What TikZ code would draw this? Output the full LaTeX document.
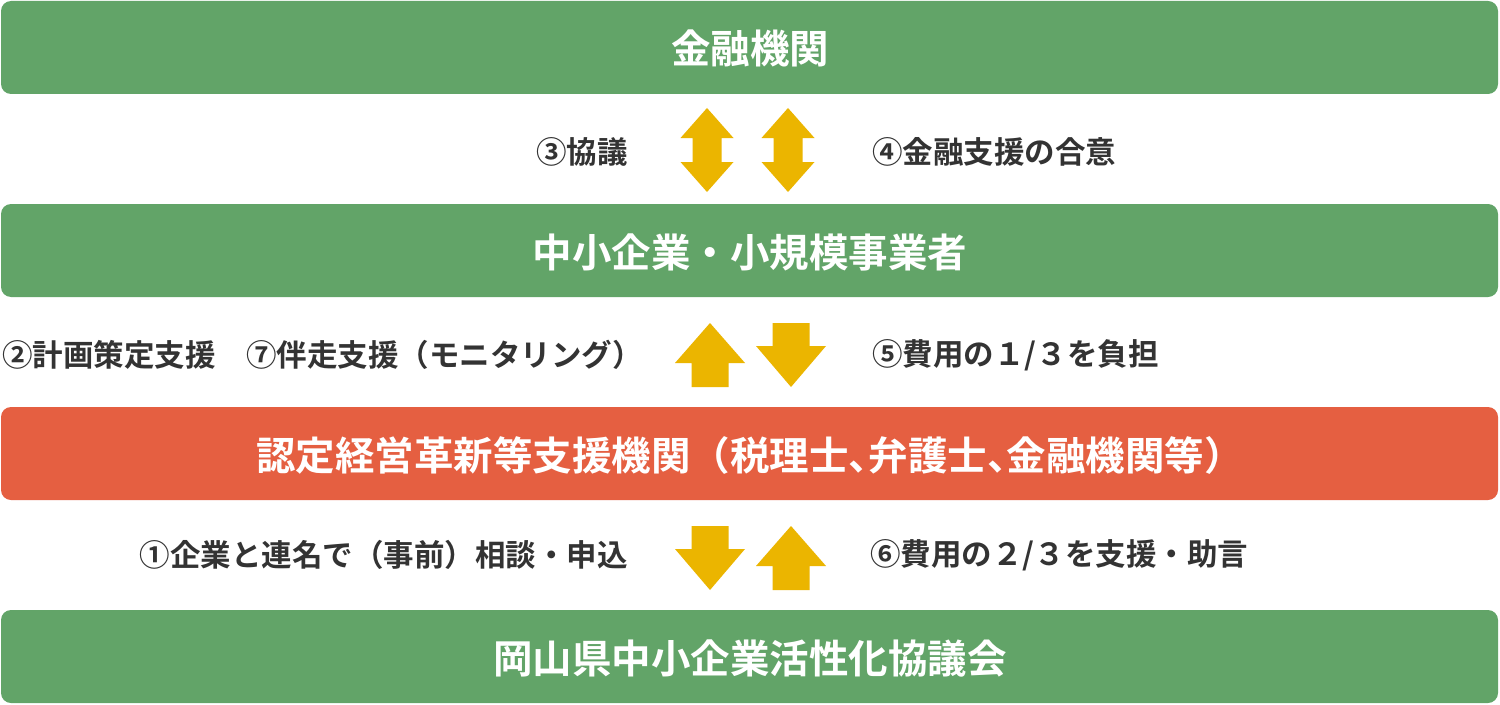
\documentclass[tikz,border=0pt]{standalone}
\usepackage{fontspec}
\setmainfont{Noto Sans CJK JP}[BoldFont={Noto Sans CJK JP Bold}]
\definecolor{boxgreen}{HTML}{62A468}
\definecolor{boxred}{HTML}{E55F41}
\definecolor{arryellow}{HTML}{EBB500}
\definecolor{txtdark}{HTML}{333333}
\newcommand{\halfcomma}{\makebox[0.5em][l]{、}}
\begin{document}
\begin{tikzpicture}[x=1bp,y=-1bp,
  bandbox/.style={rounded corners=10bp,inner sep=0pt},
  bandtext/.style={text=white,font=\fontsize{39.5bp}{42bp}\selectfont\bfseries,inner sep=0pt},
  lbl/.style={text=txtdark,font=\fontsize{30.5bp}{33bp}\selectfont\bfseries,inner sep=0pt},
  uparr/.pic={\fill[arryellow] (0,0) -- (35,40) -- (18.5,40) -- (18.5,64) -- (-18.5,64) -- (-18.5,40) -- (-35,40) -- cycle;},
  downarr/.pic={\fill[arryellow] (-18.5,0) -- (18.5,0) -- (18.5,23) -- (35,23) -- (0,64) -- (-35,23) -- (-18.5,23) -- cycle;},
  dblarr/.pic={\fill[arryellow] (0,0) -- (26.5,30) -- (14.5,30) -- (14.5,54) -- (26.5,54) -- (0,84) -- (-26.5,54) -- (-14.5,54) -- (-14.5,30) -- (-26.5,30) -- cycle;}
]
\useasboundingbox (0,0) rectangle (1500,705);
\fill[white] (0,0) rectangle (1500,705);

% bands
\fill[boxgreen,bandbox] (1,1) rectangle (1498,94);
\fill[boxgreen,bandbox] (1,204) rectangle (1498,297);
\fill[boxred,bandbox] (1,407) rectangle (1498,500);
\fill[boxgreen,bandbox] (1,610) rectangle (1498,703);

\node[bandtext] (kinyu) at (750,48) {金融機関};
\node[bandtext] (chusho) at (750,252) {中小企業・小規模事業者};
\node[bandtext] (nintei) at (750,455) {認定経営革新等支援機関（税理士\halfcomma 弁護士\halfcomma 金融機関等）};
\node[bandtext] (kyogi) at (750,658) {岡山県中小企業活性化協議会};

% arrows
\pic at (707,108) {dblarr};
\pic at (788,108) {dblarr};
\pic at (710,323) {uparr};
\pic at (791,323) {downarr};
\pic at (710,526) {downarr};
\pic at (791,526) {uparr};

% labels
\node[lbl,anchor=east] (l3) at (628,152) {③協議};
\node[lbl,anchor=west] (l4) at (872,152) {④金融支援の合意};
\node[lbl,anchor=west] (l2) at (2,355) {②計画策定支援　⑦伴走支援（モニタリング）};
\node[lbl,anchor=west] (l5) at (872,355) {⑤費用の１/３を負担};
\node[lbl,anchor=east] (l1) at (628,555) {①企業と連名で（事前）相談・申込};
\node[lbl,anchor=west] (l6) at (870,555) {⑥費用の２/３を支援・助言};
\end{tikzpicture}
\end{document}
